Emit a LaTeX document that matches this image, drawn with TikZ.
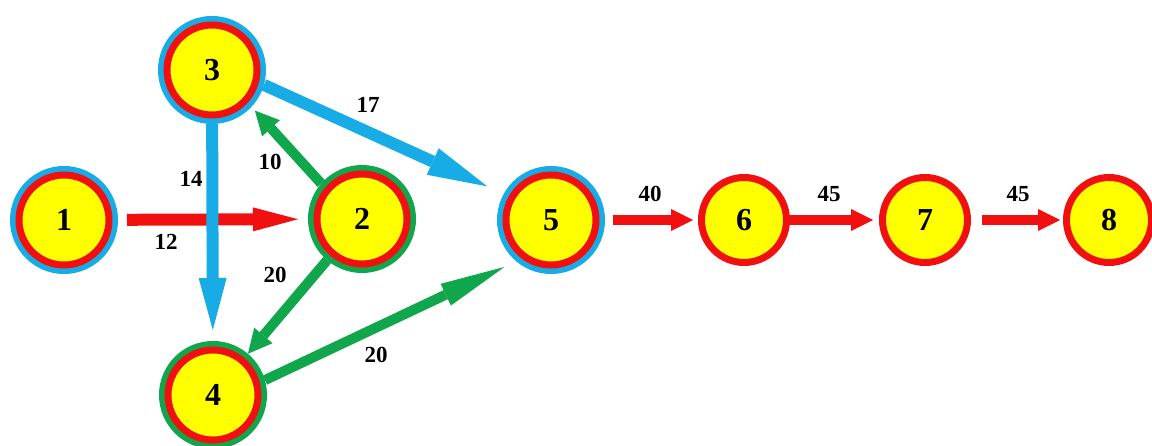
\documentclass[tikz,border=0pt]{standalone}
\usepackage{fontspec}
\setmainfont{Liberation Serif}
\usetikzlibrary{arrows.meta}
\definecolor{nyellow}{HTML}{FFFF00}
\definecolor{nred}{HTML}{F01010}
\definecolor{nblue}{HTML}{18ACE6}
\definecolor{ngreen}{HTML}{10A64C}
\begin{document}
\begin{tikzpicture}[x=1pt,y=-1pt,
  base/.style={circle, inner sep=0pt, fill=nyellow, draw=nred, line width=7pt,
    font=\bfseries\fontsize{32}{32}\selectfont},
  ringb/.style={base, minimum size=90pt, outer sep=9pt, preaction={draw=nblue, line width=18pt}},
  ringg/.style={base, minimum size=90pt, outer sep=9pt, preaction={draw=ngreen, line width=18pt}},
  plainnode/.style={base, minimum size=85pt, outer sep=3.5pt},
  lbl/.style={font=\bfseries\fontsize{23}{23}\selectfont, inner sep=0pt},
  redbig/.style={draw=nred, line width=12pt, -{Triangle[length=45pt,width=24pt,line width=0pt]}},
  redsmall/.style={draw=nred, line width=10pt, -{Triangle[length=22pt,width=22pt,line width=0pt]}},
  bluedown/.style={draw=nblue, line width=12pt, -{Triangle[length=52pt,width=28pt,line width=0pt]}},
  bluediag/.style={draw=nblue, line width=12pt, -{Triangle[length=60pt,width=29pt,line width=0pt]}},
  greenshort/.style={draw=ngreen, line width=10pt, -{Triangle[length=24pt,width=24pt,line width=0pt]}},
  greenlong/.style={draw=ngreen, line width=10pt, -{Triangle[length=65pt,width=24pt,line width=0pt]}}
]
\useasboundingbox (0,0) rectangle (1152,446);

\node[ringb] (n1) at (64,220) {1};
\node[ringg] (n2) at (362,219) {2};
\node[ringb] (n3) at (212,70) {3};
\node[ringg] (n4) at (213,395) {4};
\node[ringb] (n5) at (551,220) {5};
\node[plainnode] (n6) at (744,220) {6};
\node[plainnode] (n7) at (925,220) {7};
\node[plainnode] (n8) at (1109,220) {8};

\draw[redbig, shorten <=9pt, shorten >=10pt] (n1) -- (n2);
\draw[bluedown, shorten >=11pt] (n3) -- (n4);
\draw[bluediag, shorten >=18pt] (n3.-16) -- (n5.151);
\draw[greenshort, shorten >=5pt] (n2.139) -- (n3.-43);
\draw[greenshort] (n2) -- (n4);
\draw[greenlong, shorten >=13pt] (n4.16) -- (n5.230);
\draw[redsmall, shorten <=8pt, shorten >=5pt] (n5) -- (n6);
\draw[redsmall, shorten >=6pt] (n6) -- (n7);
\draw[redsmall, shorten <=11pt, shorten >=3pt] (n7) -- (n8);

\node[lbl] (l12) at (166,242) {12};
\node[lbl] (l14) at (191,179) {14};
\node[lbl] (l10) at (270,162) {10};
\node[lbl] (l17) at (368,105) {17};
\node[lbl] (l20a) at (275,275) {20};
\node[lbl] (l20b) at (376,355) {20};
\node[lbl] (l40) at (650,194) {40};
\node[lbl] (l45a) at (829,194) {45};
\node[lbl] (l45b) at (1018,194) {45};
\end{tikzpicture}
\end{document}
